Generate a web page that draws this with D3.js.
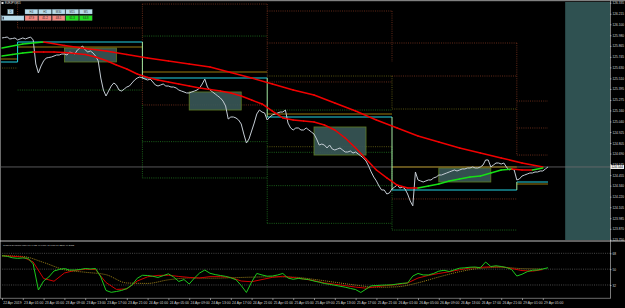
<!DOCTYPE html>
<html lang="en">
<head>
<meta charset="UTF-8">
<title>EURJPY,M15</title>
<script src="https://cdn.jsdelivr.net/npm/d3@7/dist/d3.min.js"></script>
<style>
  body { margin: 0; background: #000; }
  svg { display: block; font-family: "Liberation Sans", Arial, sans-serif; }
</style>
</head>
<body>
<svg id="chart" width="625" height="308"></svg>
<script>
// hours are counted in trading time from 22 Apr 2019 21:00 (weekend removed)

// time axis, one label every 4 hours
const timeLabels = ["22 Apr 2019", "23 Apr 01:00", "23 Apr 05:00", "23 Apr 09:00", "23 Apr 13:00",
  "23 Apr 17:00", "23 Apr 21:00", "24 Apr 01:00", "24 Apr 05:00", "24 Apr 09:00", "24 Apr 13:00",
  "24 Apr 17:00", "24 Apr 21:00", "25 Apr 01:00", "25 Apr 05:00", "25 Apr 09:00", "25 Apr 13:00",
  "25 Apr 17:00", "25 Apr 21:00", "26 Apr 01:00", "26 Apr 05:00", "26 Apr 09:00", "26 Apr 13:00",
  "26 Apr 17:00", "26 Apr 21:00", "29 Apr 01:00", "29 Apr 05:00"];

const priceTicks = [126.335, 126.215, 126.100, 125.980, 125.865, 125.745, 125.630, 125.510, 125.395,
  125.275, 125.160, 125.040, 124.925, 124.805, 124.690, 124.575, 124.455, 124.340, 124.220, 124.105,
  123.985, 123.870, 123.750];

// closes every 30 minutes
const closes = [
  125.951, 125.956, 125.961, 125.940, 125.945, 125.951, 125.929, 125.940, 125.951, 125.940, 125.951, 125.961, 125.929,
  125.667, 125.569, 125.645, 125.700, 125.732, 125.738, 125.743, 125.754, 125.765, 125.765, 125.776, 125.776, 125.765,
  125.798, 125.787, 125.776, 125.820, 125.841, 125.863, 125.820, 125.798, 125.809, 125.787, 125.754, 125.700, 125.514,
  125.383, 125.318, 125.372, 125.427, 125.460, 125.438, 125.383, 125.372, 125.394, 125.416, 125.427, 125.460, 125.492,
  125.514, 125.525, 125.514, 125.503, 125.492, 125.503, 125.471, 125.438, 125.427, 125.438, 125.449, 125.427, 125.427,
  125.416, 125.416, 125.405, 125.383, 125.372, 125.362, 125.351, 125.351, 125.362, 125.372, 125.383, 125.405, 125.449,
  125.503, 125.416, 125.383, 125.362, 125.340, 125.318, 125.296, 125.263, 125.209, 125.067, 125.089, 125.089, 125.078,
  125.056, 125.013, 124.903, 124.805, 124.849, 124.936, 125.023, 125.122, 125.165, 125.143, 125.133, 125.056, 125.089,
  125.111, 125.122, 125.133, 125.143, 125.143, 125.165, 125.023, 124.969, 124.947, 124.969, 124.969, 124.947, 124.947,
  124.969, 124.947, 124.925, 124.903, 124.849, 124.783, 124.794, 124.783, 124.751, 124.783, 124.740, 124.729, 124.740,
  124.751, 124.729, 124.707, 124.707, 124.718, 124.696, 124.707, 124.685, 124.664, 124.642, 124.609, 124.554, 124.489,
  124.434, 124.391, 124.336, 124.293, 124.293, 124.249, 124.260, 124.304, 124.325, 124.347, 124.314, 124.325, 124.304,
  124.249, 124.173, 124.120, 124.489, 124.402, 124.391, 124.380, 124.391, 124.402, 124.402, 124.424, 124.434, 124.456,
  124.456, 124.467, 124.478, 124.489, 124.500, 124.511, 124.500, 124.511, 124.522, 124.522, 124.533, 124.533, 124.544,
  124.533, 124.533, 124.544, 124.565, 124.620, 124.620, 124.544, 124.565, 124.587, 124.587, 124.576, 124.587, 124.544,
  124.511, 124.522, 124.511, 124.402, 124.413, 124.445, 124.456, 124.467, 124.478, 124.478, 124.489, 124.489, 124.500,
  124.500, 124.522, 124.544];
const bid = 124.544;

// moving averages
const maSlow = [125.841, 125.885, 125.907, 125.869, 125.836, 125.809, 125.771, 125.732, 125.700, 125.667,
  125.634, 125.574, 125.514, 125.449, 125.383, 125.329, 125.242, 125.154, 125.056, 124.969, 124.882,
  124.816, 124.751, 124.696, 124.642, 124.587, 124.544]; // every 4h
const maFast = [125.754, 125.771, 125.787, 125.798, 125.798, 125.798, 125.792, 125.781, 125.771, 125.743,
  125.705, 125.656, 125.612, 125.558, 125.520, 125.492, 125.471, 125.449, 125.427, 125.405,
  125.389, 125.372, 125.351, 125.318, 125.274, 125.231, 125.154, 125.078, 125.056, 125.045,
  125.034, 125.002, 124.947, 124.860, 124.751, 124.631, 124.511, 124.424, 124.347, 124.314,
  124.314, 124.336, 124.358, 124.391, 124.413, 124.434, 124.445, 124.478, 124.511, 124.522,
  124.511, 124.511, 124.533]; // every 2h

// daily levels
const dayBounds = [[-0.4, 3], [3, 27], [27, 51], [51, 75], [75, 99], [99, 105]];
const dayCyan = [125.689, 125.907, 125.514, 125.089, 124.293, 124.380];
const dayGold = [125.721, 125.852, 125.580, 125.122, 124.544, 124.358];

// session boxes
const sessionHours = [[12, 22], [36, 46], [60, 70], [84, 94]];
const sessionHigh = [125.841, 125.362, 124.980, 124.533];
const sessionLow = [125.689, 125.165, 124.674, 124.380];

// dotted pivot lines: [from h, to h, price, colour]
const dotLevels = [
  [-0.4, 3, 125.623, "ol"],
  [3, 27, 126.060, "br"], [3, 27, 125.383, "gr"],
  [27, 51, 126.321, "br"], [27, 51, 125.972, "gr"], [27, 51, 125.220, "br"], [27, 51, 124.820, "gr"], [27, 51, 124.424, "gr"],
  [51, 75, 126.245, "br"], [51, 75, 125.471, "br"], [51, 75, 125.536, "ol"], [51, 75, 125.165, "gr"],
  [51, 75, 124.765, "ol"], [51, 75, 124.704, "gr"], [51, 75, 124.340, "gr"], [51, 75, 123.929, "gr"],
  [51, 99, 125.896, "br"], [75, 99, 125.536, "br"], [75, 99, 125.176, "ol"], [75, 99, 124.195, "br"], [75, 99, 123.856, "gr"],
  [99, 105, 125.263, "br"], [99, 105, 124.969, "br"], [99, 105, 124.674, "br"]];
// dotted walls: [h, price from, price to, colour]
const dotWalls = [
  [3, 126.365, 126.060, "br"],
  [27, 126.321, 125.220, "br"], [27, 125.220, 124.424, "gr"],
  [51, 126.321, 125.471, "br"], [51, 125.165, 123.929, "gr"],
  [75, 126.245, 125.689, "br"], [75, 125.536, 125.176, "ol"], [75, 124.765, 123.856, "gr"],
  [99, 125.896, 124.674, "br"]];
const futureStart = 108.3;

// Traders Dynamic Index
const tdiGreen = [65.2, 64.6, 62.9, 62.3, 62.7, 62.4, 55.9, 26.3, 36.5, 41.1,
  47.9, 49.6, 50.7, 49.0, 49.0, 49.6, 50.7, 50.2, 50.7, 41.1,
  25.8, 23.7, 24.6, 25.8, 28.0, 32.0, 39.6, 43.0, 42.8, 41.9,
  40.6, 42.6, 44.7, 41.1, 36.0, 38.2, 33.1, 39.9, 45.6, 49.0,
  45.3, 43.8, 42.8, 41.8, 40.2, 38.0, 31.4, 23.5, 35.4, 45.1,
  43.4, 42.0, 42.2, 43.4, 45.1, 39.9, 38.5, 39.5, 38.8, 38.1,
  36.5, 35.2, 33.7, 32.7, 31.7, 30.6, 29.5, 28.1, 26.8, 23.5,
  27.3, 31.1, 31.4, 31.8, 32.0, 32.2, 33.1, 33.9, 34.3, 42.2,
  45.1, 43.4, 43.4, 45.1, 47.7, 48.7, 47.3, 49.3, 51.1, 51.5,
  52.2, 52.4, 51.6, 58.1, 53.0, 53.8, 53.0, 51.9, 49.6, 42.2,
  44.2, 47.1, 48.8, 49.0, 50.2, 51.6]; // hourly
const tdiRed = [65.2, 64.6, 63.8, 58.1, 39.4, 36.3, 45.6, 48.6, 49.9, 49.5,
  34.8, 27.0, 27.5, 36.5, 41.3, 42.9, 43.1, 41.7, 40.6, 40.0,
  41.5, 41.5, 40.6, 36.5, 35.7, 38.2, 40.7, 41.9, 40.4, 38.8,
  37.0, 34.4, 32.8, 31.3, 29.6, 28.4, 30.1, 31.4, 32.5, 34.3,
  39.9, 42.9, 45.1, 47.0, 49.3, 51.3, 52.1, 52.6, 52.7, 50.7,
  48.4, 47.7, 49.5]; // every 2h
const tdiBase = [65.2, 64.4, 57.6, 49.3, 46.5, 43.7, 34.3, 33.8, 37.9, 39.9, 39.7, 40.2, 40.9, 41.3,
  40.9, 38.4, 35.1, 31.9, 29.4, 30.0, 34.5, 41.1, 47.1, 51.0, 52.1, 50.6, 50.2]; // every 4h
const tdiLevels = [68, 50, 32];

const tfNames = ["H4", "H1", "M30", "M15", "M5"];
const tfValues = [47.9, 41.2, 48.1, 61.3, 64.8];

// ---- drawing ----
const svg = d3.select("#chart");
const W = 610;
const x = d3.scaleLinear().domain([-0.385, 116.92]).range([0, W]);
const yP = d3.scaleLinear().domain([123.7473, 126.3432]).range([240, 2]);
const yT = d3.scaleLinear().domain([18.37, 80.83]).range([297, 242]);
const dotColor = { br: "#6e2f1c", ol: "#5e5a12", gr: "#1d6a1d" };

svg.append("rect").attr("width", 625).attr("height", 308).attr("fill", "#000");

const defs = svg.append("defs");
defs.append("clipPath").attr("id", "clipMain").append("rect")
  .attr("x", 0).attr("y", 1.5).attr("width", W).attr("height", 239);
defs.append("clipPath").attr("id", "clipTdi").append("rect")
  .attr("x", 0).attr("y", 241.5).attr("width", W).attr("height", 56.5);

const main = svg.append("g").attr("clip-path", "url(#clipMain)");

// future zone
main.append("rect")
  .attr("x", x(futureStart)).attr("y", yP(yP.domain()[1]))
  .attr("width", W - x(futureStart)).attr("height", yP(yP.domain()[0]) - yP(yP.domain()[1]))
  .attr("fill", "#2f5151");

// dotted pivots
main.selectAll(".dl").data(dotLevels).enter().append("line")
  .attr("x1", d => x(d[0])).attr("x2", d => x(d[1]))
  .attr("y1", d => yP(d[2])).attr("y2", d => yP(d[2]))
  .attr("stroke", d => dotColor[d[3]]).attr("stroke-width", 0.9).attr("stroke-dasharray", "1,1.2");
main.selectAll(".dw").data(dotWalls).enter().append("line")
  .attr("x1", d => x(d[0])).attr("x2", d => x(d[0]))
  .attr("y1", d => yP(d[1])).attr("y2", d => yP(d[2]))
  .attr("stroke", d => dotColor[d[3]]).attr("stroke-width", 0.9).attr("stroke-dasharray", "1,1.2");

// session boxes
main.selectAll(".box").data(sessionHours).enter().append("rect")
  .attr("x", d => x(d[0])).attr("width", d => x(d[1]) - x(d[0]))
  .attr("y", (d, i) => yP(sessionHigh[i]))
  .attr("height", (d, i) => yP(sessionLow[i]) - yP(sessionHigh[i]))
  .attr("fill", "#385858").attr("fill-opacity", 0.9)
  .attr("stroke", "#5f7d22").attr("stroke-width", 0.8);

// bid line
main.append("line").attr("x1", 0).attr("x2", W)
  .attr("y1", yP(bid)).attr("y2", yP(bid))
  .attr("stroke", "#6c6c70").attr("stroke-width", 0.8);

// daily levels
main.selectAll(".gold").data(dayBounds).enter().append("line")
  .attr("x1", d => x(d[0])).attr("x2", d => x(d[1]))
  .attr("y1", (d, i) => yP(dayGold[i])).attr("y2", (d, i) => yP(dayGold[i]))
  .attr("stroke", "#9a7a0c").attr("stroke-width", 1.1);
main.selectAll(".cyan").data(dayBounds).enter().append("line")
  .attr("x1", d => x(d[0])).attr("x2", d => x(d[1]))
  .attr("y1", (d, i) => yP(dayCyan[i])).attr("y2", (d, i) => yP(dayCyan[i]))
  .attr("stroke", "#22d4e4").attr("stroke-width", 1.1);
main.selectAll(".step").data(dayBounds.slice(1)).enter().append("line")
  .attr("x1", d => x(d[0])).attr("x2", d => x(d[0]))
  .attr("y1", (d, i) => yP(dayCyan[i])).attr("y2", (d, i) => yP(dayCyan[i + 1]))
  .attr("stroke", (d, i) => i === 0 ? "#22d4e4" : "#a4e8a0").attr("stroke-width", 1);

// price
const priceLine = d3.line().x((d, i) => x(i * 0.5)).y(d => yP(d));
main.append("path").datum(closes).attr("d", priceLine)
  .attr("fill", "none").attr("stroke", "#c4ccd4").attr("stroke-width", 1);

// colour-changing moving averages
function drawMA(values, step, width) {
  const segs = d3.pairs(values.map((v, i) => [i * step, v]));
  main.selectAll(null).data(segs).enter().append("line")
    .attr("x1", d => x(d[0][0])).attr("x2", d => x(d[1][0]))
    .attr("y1", d => yP(d[0][1])).attr("y2", d => yP(d[1][1]))
    .attr("stroke", d => d[1][1] > d[0][1] ? "#16e016" : "#f00000")
    .attr("stroke-width", width).attr("stroke-linecap", "round");
}
drawMA(maSlow, 4, 1.5);
drawMA(maFast, 2, 1.5);

// ---- indicator pane ----
const tdi = svg.append("g").attr("clip-path", "url(#clipTdi)");
tdi.selectAll(".lvl").data(tdiLevels).enter().append("line")
  .attr("x1", 0).attr("x2", W).attr("y1", d => yT(d)).attr("y2", d => yT(d))
  .attr("stroke", "#5a5a5a").attr("stroke-width", 0.8).attr("stroke-dasharray", "1,1.2");
const tdiLine = step => d3.line().x((d, i) => x(i * step)).y(d => yT(d));
tdi.append("path").datum(tdiBase).attr("d", tdiLine(4).curve(d3.curveMonotoneX))
  .attr("fill", "none").attr("stroke", "#b0901c").attr("stroke-width", 0.9).attr("stroke-dasharray", "1,1");
tdi.append("path").datum(tdiRed).attr("d", tdiLine(2))
  .attr("fill", "none").attr("stroke", "#d00000").attr("stroke-width", 1);
tdi.append("path").datum(tdiGreen).attr("d", tdiLine(1))
  .attr("fill", "none").attr("stroke", "#1cc81c").attr("stroke-width", 1);
svg.append("text").attr("x", 3).attr("y", 246.3).attr("font-size", 2.4).attr("fill", "#d0d0d0")
  .text("Traders Dynamic Index 54.6432 46.6457 45.9656 54.2280 49.2853");

// ---- frame ----
svg.append("rect").attr("x", 0).attr("y", 0).attr("width", 625).attr("height", 1.2).attr("fill", "#808080");
svg.append("line").attr("x1", 0.5).attr("x2", 0.5).attr("y1", 0).attr("y2", 298).attr("stroke", "#6a6a6a");
svg.append("line").attr("x1", W + 0.5).attr("x2", W + 0.5).attr("y1", 0).attr("y2", 298).attr("stroke", "#9a9a9a").attr("stroke-width", 0.8);
svg.append("line").attr("x1", 0).attr("x2", 625).attr("y1", 241).attr("y2", 241).attr("stroke", "#d8d8d8").attr("stroke-width", 0.9);
svg.append("line").attr("x1", 0).attr("x2", W + 1).attr("y1", 298.3).attr("y2", 298.3).attr("stroke", "#9a9a9a").attr("stroke-width", 0.7);

// axes
function styleAxis(g, size) {
  g.attr("font-size", size).attr("font-family", null).attr("color", "#d8d8d8");
  g.select(".domain").remove();
  g.selectAll(".tick line").attr("stroke-width", 0.6);
}
svg.append("g").attr("transform", `translate(${W},0)`)
  .call(d3.axisRight(yP).tickValues(priceTicks).tickFormat(d3.format(".3f")).tickSize(1.5).tickPadding(1))
  .call(g => styleAxis(g, 3.2));
svg.append("g").attr("transform", `translate(${W},0)`)
  .call(d3.axisRight(yT).tickValues(tdiLevels).tickFormat(d3.format("d")).tickSize(1.5).tickPadding(1))
  .call(g => styleAxis(g, 3.2));
svg.append("g").attr("transform", "translate(0,298.3)")
  .call(d3.axisBottom(x).tickValues(timeLabels.map((t, i) => i * 4))
    .tickFormat((d, i) => timeLabels[i]).tickSize(1.8).tickPadding(1.6))
  .call(g => styleAxis(g, 3.4))
  .call(g => g.selectAll(".tick text").attr("text-anchor", "start").attr("x", 0.8));

// bid label
svg.append("rect").attr("x", W + 0.5).attr("y", yP(bid) - 2).attr("width", 13.5).attr("height", 4)
  .attr("fill", "#f4f4f4");
svg.append("text").attr("x", W + 1.5).attr("y", yP(bid) + 1.2).attr("font-size", 3.2).attr("fill", "#000")
  .text(d3.format(".3f")(bid));

// ---- title and timeframe panel ----
svg.append("rect").attr("x", 1.5).attr("y", 2).attr("width", 2).attr("height", 2).attr("fill", "#e0e0e0");
svg.append("text").attr("x", 5).attr("y", 4.4).attr("font-size", 2.6).attr("fill", "#e0e0e0").text("EURJPY,M15");

const panel = svg.append("g");
panel.append("rect").attr("x", 7.7).attr("y", 9.3).attr("width", 5.6).attr("height", 4.7)
  .attr("fill", "#b9dcea").attr("stroke", "#6f8f9c").attr("stroke-width", 0.3);
panel.append("text").attr("x", 10.5).attr("y", 12.7).attr("text-anchor", "middle")
  .attr("font-size", 3).attr("fill", "#222").text("D");
panel.append("rect").attr("x", 1.5).attr("y", 15.8).attr("width", 22.5).attr("height", 4.7)
  .attr("fill", "#b9dcea").attr("stroke", "#6f8f9c").attr("stroke-width", 0.3);
panel.append("rect").attr("x", 2.6).attr("y", 16.8).attr("width", 1.2).attr("height", 2.7).attr("fill", "#334");
const cell = panel.selectAll(".tf").data(tfNames).enter().append("g")
  .attr("transform", (d, i) => `translate(${25 + i * 13.6},0)`);
cell.append("rect").attr("y", 9.3).attr("width", 12.8).attr("height", 4.7)
  .attr("fill", "#b9dcea").attr("stroke", "#6f8f9c").attr("stroke-width", 0.3);
cell.append("text").attr("x", 6.4).attr("y", 12.7).attr("text-anchor", "middle")
  .attr("font-size", 2.8).attr("fill", "#333").text(d => d);
cell.append("rect").attr("y", 15.5).attr("width", 12.8).attr("height", 5.2)
  .attr("fill", (d, i) => tfValues[i] < 50 ? "#f48a82" : "#22dd22")
  .attr("stroke", "#555").attr("stroke-width", 0.3);
cell.append("text").attr("x", 6.4).attr("y", 19.1).attr("text-anchor", "middle")
  .attr("font-size", 2.8).attr("fill", "#222").text((d, i) => tfValues[i].toFixed(1));
</script>
</body>
</html>
